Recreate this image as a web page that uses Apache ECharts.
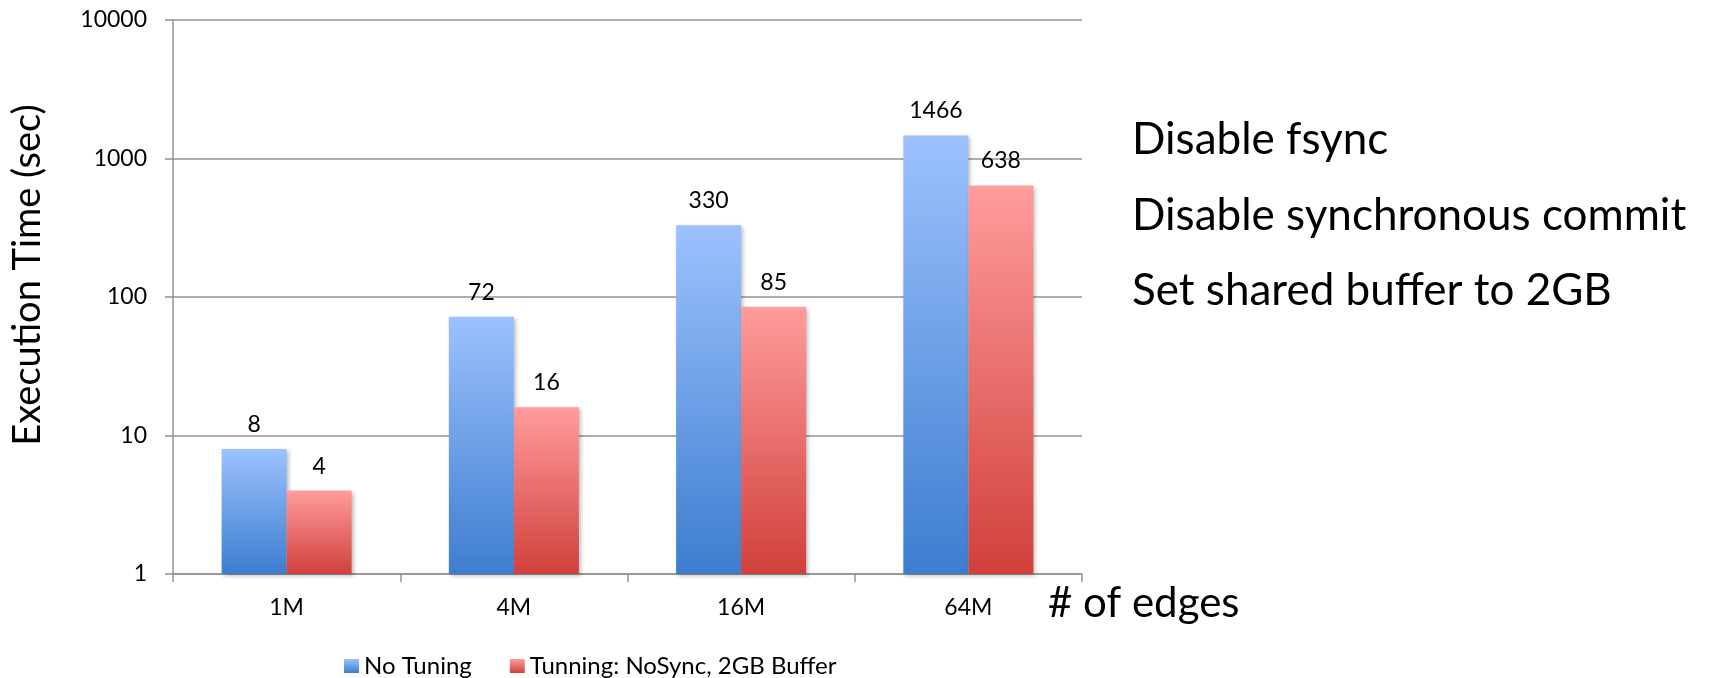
<!DOCTYPE html>
<html>
<head>
<meta charset="utf-8">
<script src="https://cdn.jsdelivr.net/npm/echarts@6/dist/echarts.min.js"></script>
<style>
  html, body { margin: 0; padding: 0; background: #fff; }
  #chart { width: 1709px; height: 678px; }
</style>
</head>
<body>
<div id="chart"></div>
<script>
// categories and values
var edges = ['1M', '4M', '16M', '64M'];
var noTuning = [8, 72, 330, 1466];
var tuned = [4, 16, 85, 638];
var seriesNames = ['No Tuning', 'Tunning: NoSync, 2GB Buffer'];
var notes = ['Disable fsync', 'Disable synchronous commit', 'Set shared buffer to 2GB'];

var FONT = 'Lato, "Open Sans", sans-serif';
var GRAY = '#939393';

var chartDom = document.getElementById('chart');
var myChart = echarts.init(chartDom);
var option;

function grad(top, bottom) {
    return new echarts.graphic.LinearGradient(0, 0, 0, 1, [
        { offset: 0, color: top },
        { offset: 1, color: bottom }
    ]);
}

var barStyle = {
    shadowBlur: 4,
    shadowColor: 'rgba(0,0,0,0.25)',
    shadowOffsetX: 2,
    shadowOffsetY: 2
};

var valueLabel = { show: true, position: 'top', distance: 13, fontSize: 23, color: '#000' };

option = {
    animation: false,
    textStyle: { fontFamily: FONT, color: '#000' },
    grid: {
        left: 173,
        right: 627,
        top: 20,
        bottom: 104
    },
    legend: {
        data: seriesNames,
        left: 339,
        top: 649,
        icon: 'rect',
        itemWidth: 15,
        itemHeight: 14,
        itemGap: 38,
        textStyle: { fontSize: 24, color: '#000', fontFamily: FONT }
    },
    xAxis: {
        type: 'category',
        data: edges,
        axisLine: { lineStyle: { color: GRAY, width: 1.5 } },
        axisTick: { show: true, length: 8, lineStyle: { color: GRAY, width: 1.5 } },
        axisLabel: { fontSize: 23, color: '#000', margin: 22 }
    },
    yAxis: {
        type: 'log',
        logBase: 10,
        min: 1,
        max: 10000,
        axisLine: { show: true, lineStyle: { color: GRAY, width: 1.5 } },
        axisTick: { show: true, length: 8, lineStyle: { color: GRAY, width: 1.5 } },
        axisLabel: {
            fontSize: 23,
            color: '#000',
            margin: 26,
            formatter: function (v) { return String(Math.round(v)); }
        },
        splitLine: { show: true, lineStyle: { color: GRAY, width: 1.5 } }
    },
    series: [
        {
            name: seriesNames[0],
            type: 'bar',
            barWidth: 65,
            barGap: '0%',
            data: noTuning,
            itemStyle: Object.assign({ color: grad('#9cc2fe', '#3d7dcf') }, barStyle),
            label: valueLabel
        },
        {
            name: seriesNames[1],
            type: 'bar',
            barWidth: 65,
            barGap: '0%',
            data: tuned,
            itemStyle: Object.assign({ color: grad('#ff9c9c', '#d0403c') }, barStyle),
            label: valueLabel
        }
    ],
    graphic: [
        {
            type: 'text',
            x: 28,
            y: 275,
            rotation: Math.PI / 2,
            style: {
                text: 'Execution Time (sec)',
                font: '38px ' + FONT,
                fill: '#000',
                align: 'center',
                verticalAlign: 'middle'
            }
        },
        {
            type: 'text',
            x: 1048,
            y: 603,
            style: {
                text: '# of edges',
                font: '42px ' + FONT,
                fill: '#000',
                align: 'left',
                verticalAlign: 'middle'
            }
        },
        {
            type: 'text', x: 1132, y: 140,
            style: { text: notes[0], font: '44px ' + FONT, fill: '#000', verticalAlign: 'middle' }
        },
        {
            type: 'text', x: 1132, y: 216,
            style: { text: notes[1], font: '44px ' + FONT, fill: '#000', verticalAlign: 'middle' }
        },
        {
            type: 'text', x: 1132, y: 291,
            style: { text: notes[2], font: '44px ' + FONT, fill: '#000', verticalAlign: 'middle' }
        }
    ]
};

option && myChart.setOption(option);
</script>
</body>
</html>
